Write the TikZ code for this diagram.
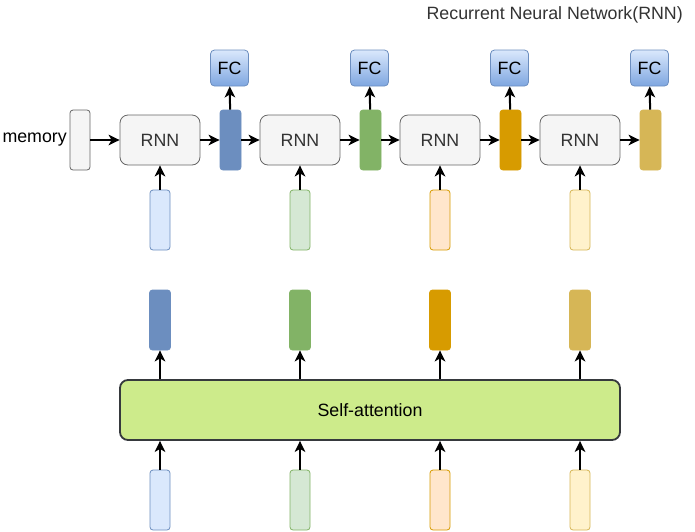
\documentclass[tikz,border=0pt]{standalone}
\usepackage{fontspec}
\setmainfont{Liberation Sans}
\usetikzlibrary{arrows.meta}
\definecolor{bluef}{HTML}{DAE8FC}\definecolor{blued}{HTML}{6C8EBF}
\definecolor{greenf}{HTML}{D5E8D4}\definecolor{greend}{HTML}{82B366}
\definecolor{orangef}{HTML}{FFE6CC}\definecolor{oranged}{HTML}{D79B00}
\definecolor{yellowf}{HTML}{FFF2CC}\definecolor{yellowd}{HTML}{D6B656}
\definecolor{grayf}{HTML}{F5F5F5}\definecolor{grayd}{HTML}{666666}
\definecolor{txt}{HTML}{333333}
\definecolor{fcbot}{HTML}{7EA6E0}
\definecolor{saf}{HTML}{CDEB8B}\definecolor{sad}{HTML}{36393D}
\begin{document}
\begin{tikzpicture}[x=1pt,y=-1pt,
  every node/.style={font=\fontsize{17.8}{21}\selectfont, inner sep=0pt},
  rnnbox/.style={draw=grayd, fill=grayf, rounded corners=8pt, minimum width=80pt, minimum height=50pt, text=txt, line width=0.8pt},
  membox/.style={draw=grayd, fill=grayf, rounded corners=3pt, minimum width=20pt, minimum height=60pt, line width=0.8pt},
  bar/.style={rounded corners=3pt, minimum width=21pt, minimum height=60pt, line width=0.8pt},
  hid/.style={bar, fill=#1, draw=#1},
  inp/.style={bar, draw=#1d, fill=#1f, minimum width=20pt},
  fcbox/.style={draw=blued, top color=bluef, bottom color=fcbot, rounded corners=4pt, minimum width=38pt, minimum height=36pt, line width=0.8pt},
  sabox/.style={draw=sad, fill=saf, rounded corners=8pt, minimum width=500pt, minimum height=60pt, line width=1.8pt},
  arr/.style={-{Stealth[length=11pt,width=10.5pt,inset=3pt]}, line width=2pt, black}
]
\useasboundingbox (0,0) rectangle (695,531);
\node[text=txt, anchor=east] (title) at (683,15) {Recurrent Neural Network(RNN)};
\node[anchor=east] (memtxt) at (67,140) {memory};
\node[membox] (mem) at (80,140) {};
% RNN row
\foreach \i/\x/\c in {1/160/blue,2/300/green,3/440/orange,4/580/yellow}{
  \node[rnnbox] (r\i) at (\x,140) {RNN};
  \node[inp=\c] (in\i) at (\x,220) {};
  \node[hid=\c d] (h\i) at (\x+70.5,140) {};
  \node[fcbox] (fc\i) at (\x+69.5,68) {FC};
  \draw[arr] (in\i) -- (r\i);
  \draw[arr] (r\i) -- (h\i);
  \draw[arr] (h\i) -- (fc\i);
}
\draw[arr] (mem) -- (r1);
\draw[arr] (h1) -- (r2);
\draw[arr] (h2) -- (r3);
\draw[arr] (h3) -- (r4);
% Self-attention
\node[sabox] (sa) at (370,410) {Self-attention};
\foreach \i/\x/\c in {1/160/blue,2/300/green,3/440/orange,4/580/yellow}{
  \node[hid=\c d] (o\i) at (\x,320) {};
  \node[inp=\c] (b\i) at (\x,500) {};
  \draw[arr] (sa.north -| o\i) -- (o\i);
  \draw[arr] (b\i) -- (sa.south -| b\i);
}
\end{tikzpicture}
\end{document}
